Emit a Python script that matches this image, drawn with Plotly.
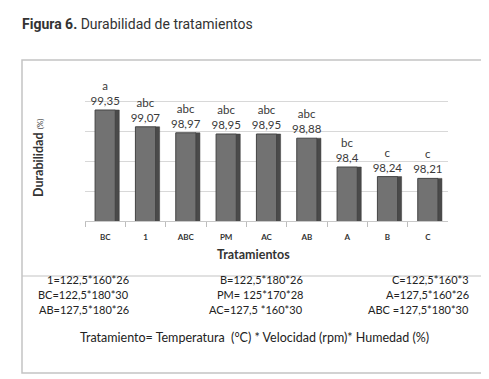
import plotly.graph_objects as go

categories = ["BC", "1", "ABC", "PM", "AC", "AB", "A", "B", "C"]
values = [99.35, 99.07, 98.97, 98.95, 98.95, 98.88, 98.40, 98.24, 98.21]
value_labels = ["99,35", "99,07", "98,97", "98,95", "98,95", "98,88", "98,4", "98,24", "98,21"]
groups = ["a", "abc", "abc", "abc", "abc", "abc", "bc", "c", "c"]

legend_left = ["1=122,5*160*26", "BC=122,5*180*30", "AB=127,5*180*26"]
legend_mid = ["B=122,5*180*26", "PM= 125*170*28", "AC=127,5 *160*30"]
legend_right = ["C=122,5*160*3", "A=127,5*160*26", "ABC =127,5*180*30"]
footnote = "Tratamiento= Temperatura  (°C) * Velocidad (rpm)* Humedad (%)"

W, H = 489, 379
def px(x):
    return x / W
def py(y):
    return 1 - y / H

fig = go.Figure()
# side face (3D look)
fig.add_trace(go.Bar(
    x=categories, y=values, width=0.11, offset=0.24,
    marker=dict(color="#4a4a4a", line=dict(color="#3a3a3a", width=0.5)),
    hoverinfo="skip", showlegend=False, cliponaxis=False,
))
# front face
fig.add_trace(go.Bar(
    x=categories, y=values, width=0.5, offset=-0.25,
    marker=dict(color="#727272", line=dict(color="#444444", width=1)),
    text=[f"{g}<br>{v}" for g, v in zip(groups, value_labels)],
    textposition="outside", cliponaxis=False, constraintext="none",
    textfont=dict(family="Lato, Open Sans, sans-serif", size=11.5, color="#3a3a3a"),
    showlegend=False,
))

fig.update_layout(
    width=W, height=H, margin=dict(l=0, r=0, t=0, b=0),
    paper_bgcolor="white", plot_bgcolor="white", barmode="overlay",
    xaxis=dict(domain=[px(77), px(440)], showline=True, linecolor="#c8c8c8",
               ticks="outside", tickson="boundaries", ticklen=5, tickcolor="#bdbdbd",
               ticklabelstandoff=8,
               tickfont=dict(family="Lato, sans-serif", size=8, color="#333"),
               tickprefix="<b>", ticksuffix="</b>",
               showgrid=False),
    yaxis=dict(domain=[py(213), py(87)], range=[97.5, 99.6], dtick=0.5, tick0=97.5,
               showticklabels=False, showgrid=True, gridcolor="#d8d8d8", zeroline=False,
               showline=False),
    font=dict(family="Lato, sans-serif"),
)

# title
fig.add_annotation(x=px(12), y=py(16), xref="paper", yref="paper", xanchor="left", yanchor="middle",
                   text="<b>Figura 6.</b> Durabilidad de tratamientos", showarrow=False,
                   font=dict(family="Roboto, sans-serif", size=14, color="#333"))
# axis titles
fig.add_annotation(x=px(245), y=py(256), xref="paper", yref="paper", xanchor="center",
                   text="<b>Tratamientos</b>",
                   showarrow=False, font=dict(family="Lato, sans-serif", size=12.5, color="#333"))
fig.add_annotation(x=px(30), y=py(150), xref="paper", yref="paper", xanchor="center", yanchor="middle",
                   text="<b>Durabilidad</b> <span style='font-size:8px'>(%)</span>", textangle=-90,
                   showarrow=False, font=dict(family="Lato, sans-serif", size=12.5, color="#333"))

# outer frame and divider
fig.add_shape(type="rect", xref="paper", yref="paper", x0=px(14), x1=px(477), y0=py(365), y1=py(52),
              line=dict(color="#c4c4c4", width=1.5))
fig.add_shape(type="line", xref="paper", yref="paper", x0=px(14), x1=px(477), y0=py(268), y1=py(268),
              line=dict(color="#c4c4c4", width=1.2))

rows_y = [280, 295, 310]
for col, xr in ((legend_left, 123), (legend_mid, 297), (legend_right, 463)):
    for t, yy in zip(col, rows_y):
        fig.add_annotation(x=px(xr), y=py(yy), xref="paper", yref="paper", xanchor="right",
                           text=t, showarrow=False,
                           font=dict(family="Lato, sans-serif", size=11, color="#222"))
fig.add_annotation(x=px(246), y=py(339), xref="paper", yref="paper", xanchor="center",
                   text=footnote, showarrow=False,
                   font=dict(family="Lato, sans-serif", size=12.5, color="#222"))

fig.write_html("out.html")
